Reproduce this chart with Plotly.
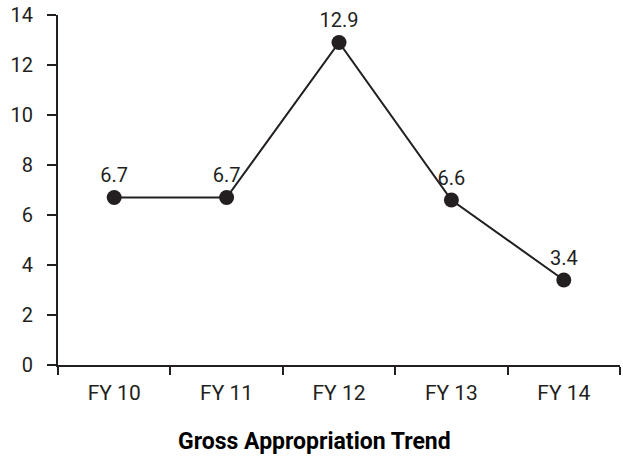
import plotly.graph_objects as go

# Gross appropriation by fiscal year
years = ["FY 10", "FY 11", "FY 12", "FY 13", "FY 14"]
values = [6.7, 6.7, 12.9, 6.6, 3.4]
y_ticks = [0, 2, 4, 6, 8, 10, 12, 14]

ink = "#231f20"
font_family = "Roboto, sans-serif"

fig = go.Figure()
fig.add_trace(go.Scatter(
    x=years,
    y=values,
    mode="lines+markers+text",
    line=dict(color=ink, width=2),
    marker=dict(color=ink, size=15),
    text=[f"{v:.1f}" for v in values],
    textposition="top center",
    textfont=dict(family=font_family, size=20, color=ink),
    cliponaxis=False,
    showlegend=False,
))

fig.update_layout(
    width=623,
    height=457,
    margin=dict(l=58, r=3, t=15, b=92),
    paper_bgcolor="white",
    plot_bgcolor="white",
    font=dict(family=font_family, size=20, color=ink),
    annotations=[dict(
        text="<b>Gross Appropriation Trend</b>",
        xref="paper", yref="paper",
        x=0.457, y=-0.218,
        xanchor="center", yanchor="middle",
        showarrow=False,
        font=dict(family=font_family, size=23, color="black"),
    )],
)

fig.update_xaxes(
    type="category",
    range=[-0.5, 4.5],
    tickson="boundaries",
    ticks="outside",
    ticklen=8,
    tickwidth=2,
    tickcolor=ink,
    showline=True,
    linecolor=ink,
    linewidth=2,
    showgrid=False,
    ticklabelstandoff=8,
    tickfont=dict(family=font_family, size=21, color=ink),
)
fig.update_yaxes(
    range=[0, 14],
    tickvals=y_ticks,
    ticks="outside",
    ticklen=9,
    tickwidth=2,
    tickcolor=ink,
    showline=True,
    linecolor=ink,
    linewidth=2,
    showgrid=False,
    zeroline=False,
    ticklabelstandoff=10,
    tickfont=dict(family=font_family, size=20, color=ink),
)

fig.write_html("out.html")
